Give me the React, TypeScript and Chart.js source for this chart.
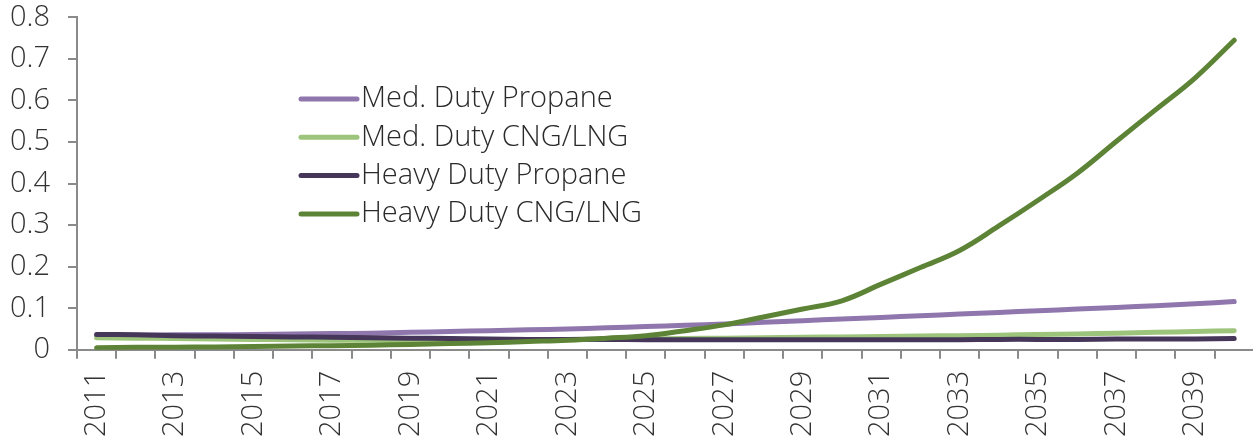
import React, { useEffect, useRef } from "react";
import { Chart, registerables } from "chart.js";

Chart.register(...registerables);

const years: string[] = [
  "2011", "2012", "2013", "2014", "2015", "2016", "2017", "2018", "2019", "2020",
  "2021", "2022", "2023", "2024", "2025", "2026", "2027", "2028", "2029", "2030",
  "2031", "2032", "2033", "2034", "2035", "2036", "2037", "2038", "2039", "2040",
];

const medDutyPropane: number[] = [
  0.035, 0.035, 0.036, 0.036, 0.037, 0.038, 0.039, 0.040, 0.042, 0.044,
  0.046, 0.048, 0.050, 0.053, 0.056, 0.059, 0.062, 0.066, 0.070, 0.074,
  0.078, 0.082, 0.086, 0.090, 0.094, 0.098, 0.102, 0.106, 0.111, 0.116,
];

const medDutyCng: number[] = [
  0.029, 0.028, 0.027, 0.026, 0.025, 0.024, 0.023, 0.023, 0.022, 0.022,
  0.022, 0.023, 0.024, 0.025, 0.026, 0.027, 0.028, 0.029, 0.030, 0.031,
  0.032, 0.033, 0.034, 0.035, 0.037, 0.038, 0.040, 0.042, 0.044, 0.046,
];

const heavyDutyPropane: number[] = [
  0.037, 0.036, 0.034, 0.033, 0.032, 0.031, 0.030, 0.029, 0.028, 0.027,
  0.026, 0.025, 0.025, 0.025, 0.024, 0.024, 0.024, 0.024, 0.024, 0.024,
  0.024, 0.024, 0.024, 0.025, 0.025, 0.025, 0.026, 0.026, 0.026, 0.027,
];

const heavyDutyCng: number[] = [
  0.005, 0.006, 0.006, 0.007, 0.008, 0.009, 0.010, 0.011, 0.013, 0.015,
  0.017, 0.020, 0.023, 0.028, 0.034, 0.046, 0.060, 0.079, 0.098, 0.118,
  0.158, 0.198, 0.239, 0.298, 0.360, 0.425, 0.502, 0.578, 0.654, 0.745,
];

const seriesNames: string[] = [
  "Med. Duty Propane",
  "Med. Duty CNG/LNG",
  "Heavy Duty Propane",
  "Heavy Duty CNG/LNG",
];

const seriesColors: string[] = ["#8f77ad", "#9cc47a", "#45365a", "#5d8436"];

const FONT = "'Open Sans', 'DejaVu Sans', sans-serif";
const FONT_SIZE = 29;

const legendPlugin = {
  id: "insideLegend",
  afterDraw(chart: any) {
    const ctx = chart.ctx;
    const x0 = 309;
    const x1 = 365;
    const tx = 369;
    const y0 = 117;
    const dy = 38.3;
    ctx.save();
    chart.data.datasets.forEach((ds: any, i: number) => {
      const y = y0 + i * dy;
      ctx.strokeStyle = ds.borderColor;
      ctx.lineWidth = 5;
      ctx.lineCap = "round";
      ctx.beginPath();
      ctx.moveTo(x0, y);
      ctx.lineTo(x1, y);
      ctx.stroke();
      ctx.fillStyle = "#2a2a2a";
      ctx.font = `300 ${FONT_SIZE}px ${FONT}`;
      ctx.textBaseline = "middle";
      ctx.textAlign = "left";
      ctx.fillText(ds.label, tx, y);
    });
    ctx.restore();
  },
};

export default function App() {
  const canvasRef = useRef<HTMLCanvasElement | null>(null);

  useEffect(() => {
    document.body.style.margin = "0";
    document.body.style.overflow = "hidden";
    const canvas = canvasRef.current;
    if (!canvas) return;
    const seriesData = [medDutyPropane, medDutyCng, heavyDutyPropane, heavyDutyCng];
    const orders = [3, 2, 1, 0];
    const chart = new Chart(canvas, {
      type: "line",
      data: {
        labels: years,
        datasets: seriesNames.map((name, i) => ({
          label: name,
          data: seriesData[i],
          borderColor: seriesColors[i],
          backgroundColor: seriesColors[i],
          borderWidth: 5,
          borderCapStyle: "round" as const,
          borderJoinStyle: "round" as const,
          pointRadius: 0,
          tension: 0.4,
          fill: false,
          order: orders[i],
        })),
      },
      options: {
        animation: false,
        responsive: true,
        maintainAspectRatio: false,
        layout: { padding: { top: 0, right: 0, left: 0, bottom: 0 } },
        plugins: {
          legend: { display: false },
          tooltip: { enabled: false },
        },
        scales: {
          x: {
            offset: true,
            grid: {
              offset: true,
              drawOnChartArea: false,
              drawTicks: true,
              tickLength: 9,
              color: "#8a8a8a",
              lineWidth: 2,
            },
            border: { color: "#8a8a8a", width: 2 },
            ticks: {
              autoSkip: false,
              minRotation: 90,
              maxRotation: 90,
              padding: 12,
              color: "#333333",
              font: { family: FONT, size: FONT_SIZE, weight: 300 as any },
              callback: function (this: any, _v: any, index: number) {
                const lab = years[index];
                return Number(lab) % 2 === 1 ? lab : "";
              },
            },
          },
          y: {
            min: 0,
            max: 0.8,
            grid: {
              drawOnChartArea: false,
              drawTicks: true,
              tickLength: 9,
              color: "#8a8a8a",
              lineWidth: 2,
            },
            border: { color: "#8a8a8a", width: 2 },
            ticks: {
              stepSize: 0.1,
              padding: 18,
              color: "#333333",
              font: { family: FONT, size: FONT_SIZE, weight: 300 as any },
              callback: (v: any) => String(Number(Number(v).toFixed(1))),
            },
          },
        },
      },
      plugins: [legendPlugin],
    });
    return () => chart.destroy();
  }, []);

  return (
    <div style={{ position: "absolute", left: -8, top: -18, width: 1289, height: 467 }}>
      <canvas ref={canvasRef} />
    </div>
  );
}
